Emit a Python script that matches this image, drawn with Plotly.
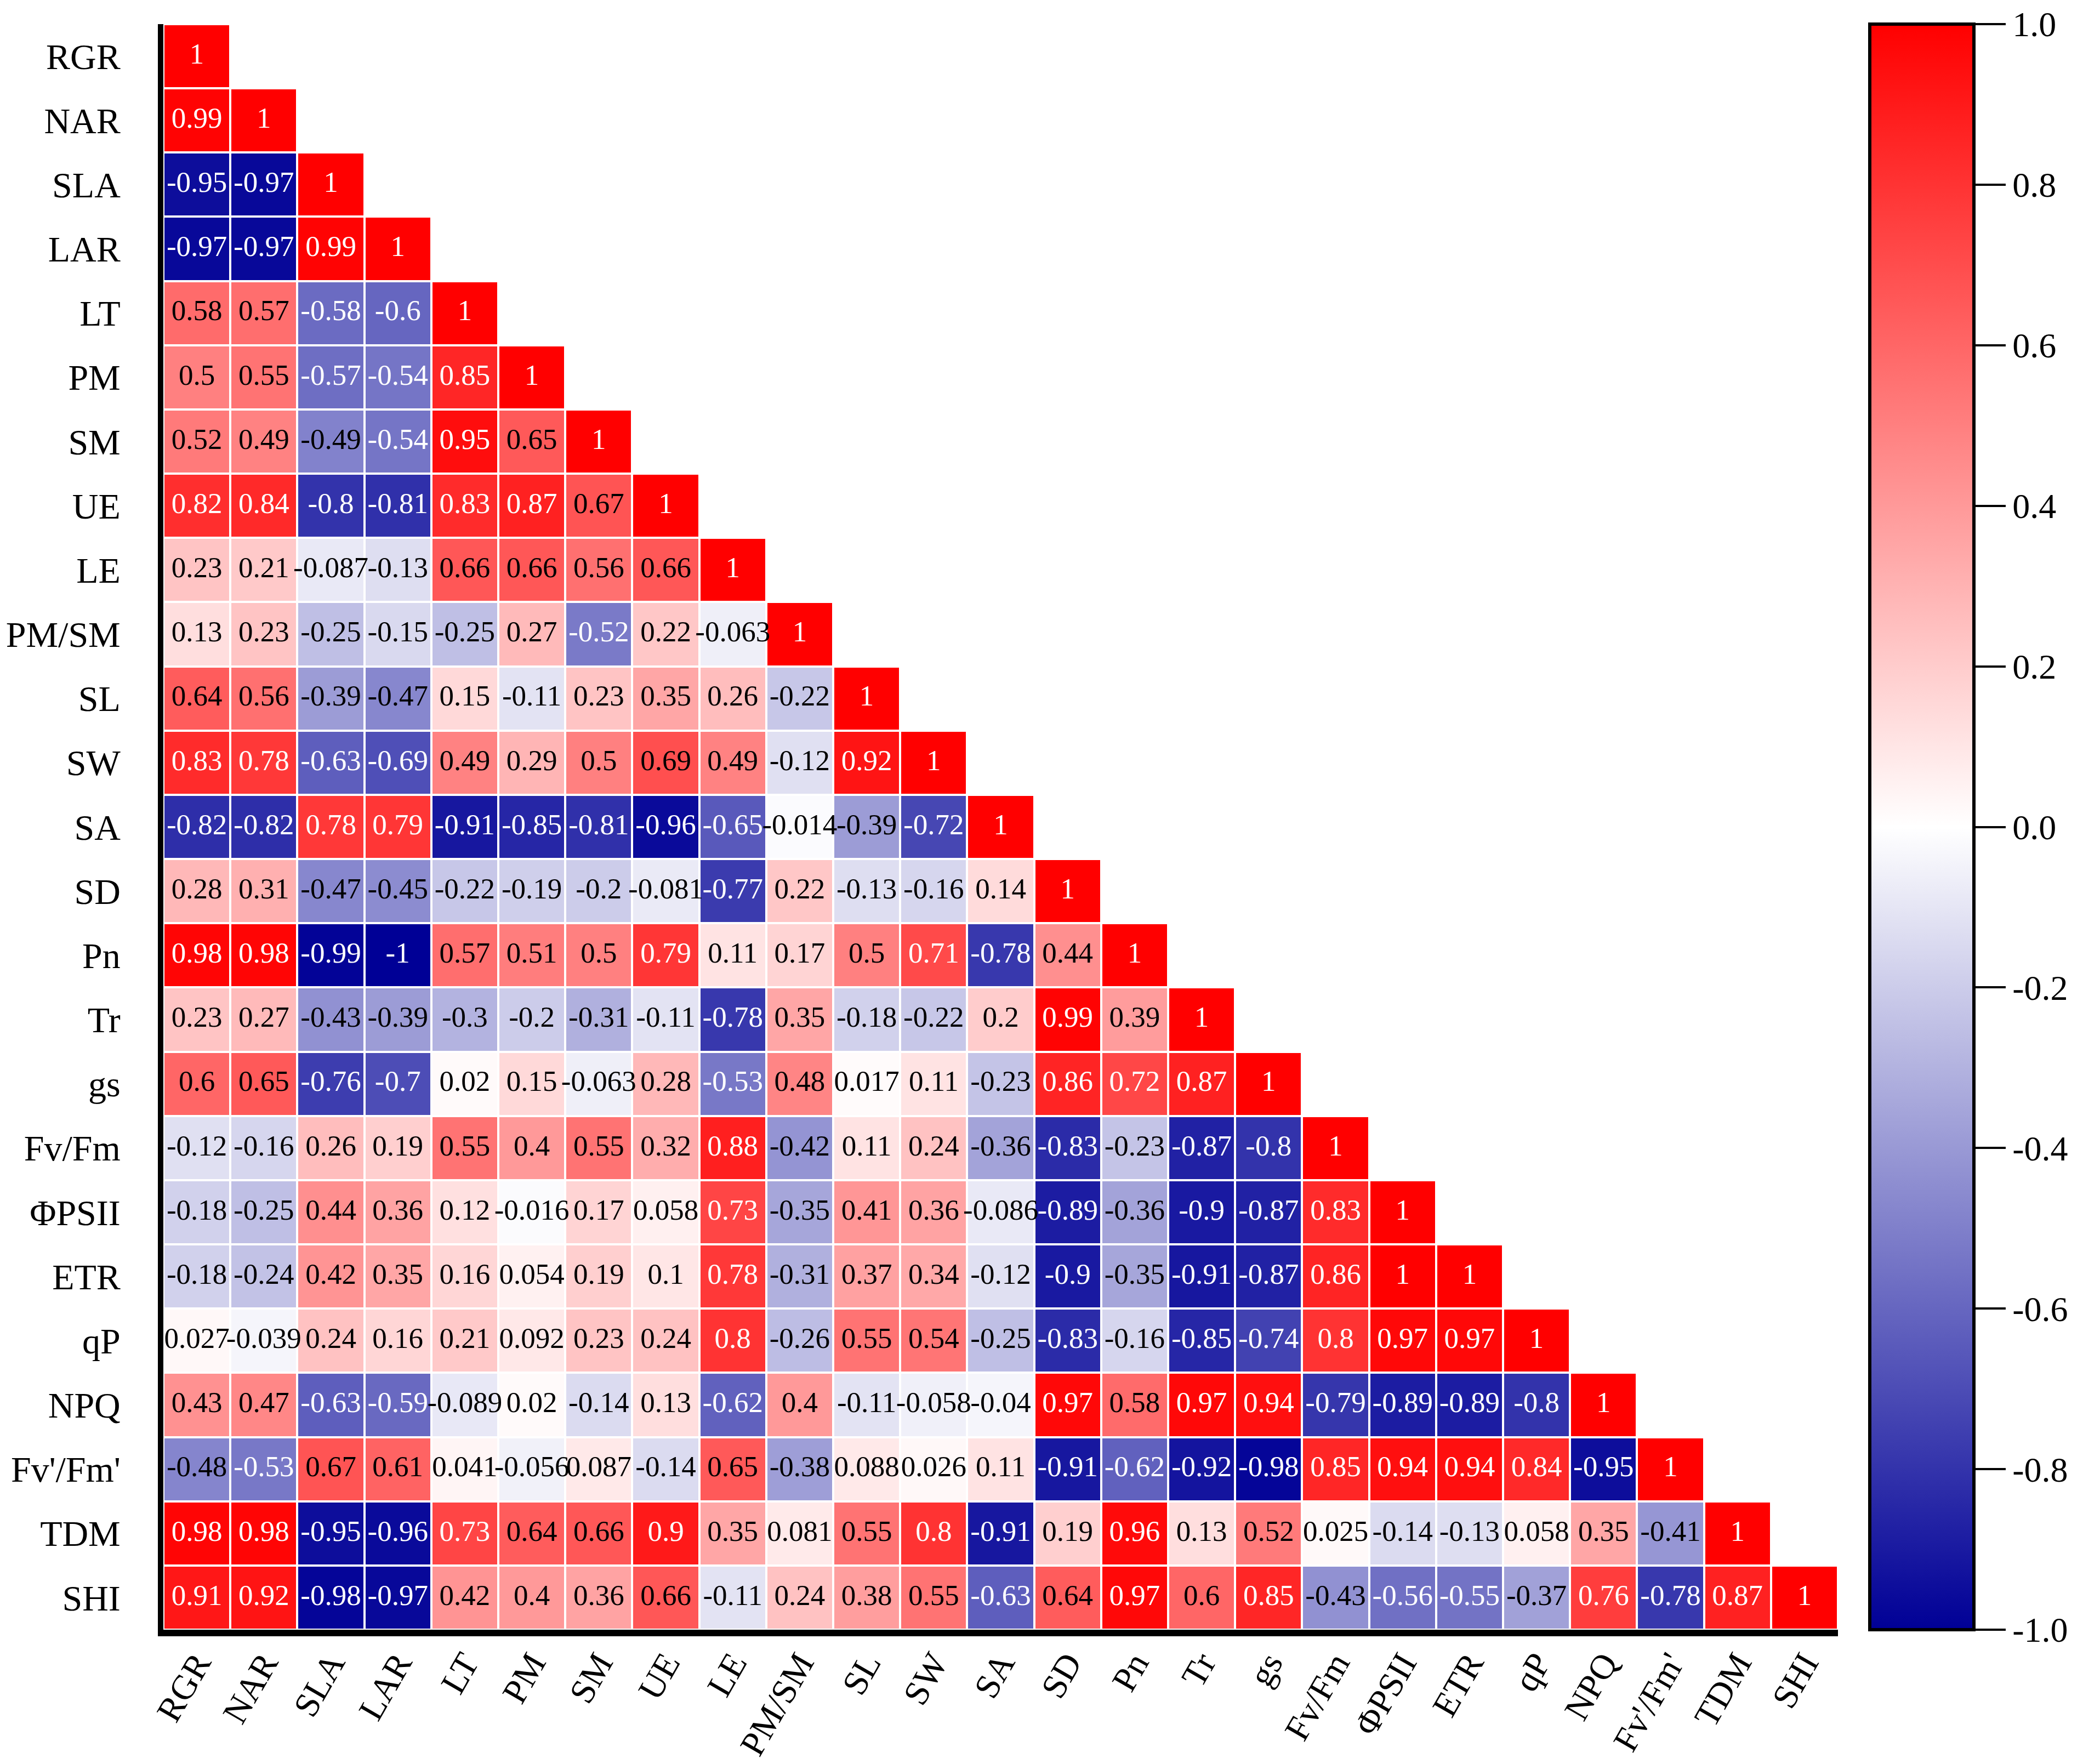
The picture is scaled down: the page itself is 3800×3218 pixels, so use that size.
import plotly.graph_objs as go

labels = ["RGR", "NAR", "SLA", "LAR", "LT", "PM", "SM", "UE", "LE", "PM/SM",
          "SL", "SW", "SA", "SD", "Pn", "Tr", "gs", "Fv/Fm", "ΦPSII", "ETR",
          "qP", "NPQ", "Fv'/Fm'", "TDM", "SHI"]

# lower triangle, row by row (diagonal 1 is added below)
r_RGR = []
r_NAR = [0.99]
r_SLA = [-0.95, -0.97]
r_LAR = [-0.97, -0.97, 0.99]
r_LT = [0.58, 0.57, -0.58, -0.6]
r_PM = [0.5, 0.55, -0.57, -0.54, 0.85]
r_SM = [0.52, 0.49, -0.49, -0.54, 0.95, 0.65]
r_UE = [0.82, 0.84, -0.8, -0.81, 0.83, 0.87, 0.67]
r_LE = [0.23, 0.21, -0.087, -0.13, 0.66, 0.66, 0.56, 0.66]
r_PMSM = [0.13, 0.23, -0.25, -0.15, -0.25, 0.27, -0.52, 0.22, -0.063]
r_SL = [0.64, 0.56, -0.39, -0.47, 0.15, -0.11, 0.23, 0.35, 0.26, -0.22]
r_SW = [0.83, 0.78, -0.63, -0.69, 0.49, 0.29, 0.5, 0.69, 0.49, -0.12, 0.92]
r_SA = [-0.82, -0.82, 0.78, 0.79, -0.91, -0.85, -0.81, -0.96, -0.65, -0.014, -0.39, -0.72]
r_SD = [0.28, 0.31, -0.47, -0.45, -0.22, -0.19, -0.2, -0.081, -0.77, 0.22, -0.13, -0.16, 0.14]
r_Pn = [0.98, 0.98, -0.99, -1, 0.57, 0.51, 0.5, 0.79, 0.11, 0.17, 0.5, 0.71, -0.78, 0.44]
r_Tr = [0.23, 0.27, -0.43, -0.39, -0.3, -0.2, -0.31, -0.11, -0.78, 0.35, -0.18, -0.22, 0.2, 0.99, 0.39]
r_gs = [0.6, 0.65, -0.76, -0.7, 0.02, 0.15, -0.063, 0.28, -0.53, 0.48, 0.017, 0.11, -0.23, 0.86, 0.72, 0.87]
r_FvFm = [-0.12, -0.16, 0.26, 0.19, 0.55, 0.4, 0.55, 0.32, 0.88, -0.42, 0.11, 0.24, -0.36, -0.83, -0.23,
          -0.87, -0.8]
r_PSII = [-0.18, -0.25, 0.44, 0.36, 0.12, -0.016, 0.17, 0.058, 0.73, -0.35, 0.41, 0.36, -0.086, -0.89, -0.36,
          -0.9, -0.87, 0.83]
r_ETR = [-0.18, -0.24, 0.42, 0.35, 0.16, 0.054, 0.19, 0.1, 0.78, -0.31, 0.37, 0.34, -0.12, -0.9, -0.35,
         -0.91, -0.87, 0.86, 1]
r_qP = [0.027, -0.039, 0.24, 0.16, 0.21, 0.092, 0.23, 0.24, 0.8, -0.26, 0.55, 0.54, -0.25, -0.83, -0.16,
        -0.85, -0.74, 0.8, 0.97, 0.97]
r_NPQ = [0.43, 0.47, -0.63, -0.59, -0.089, 0.02, -0.14, 0.13, -0.62, 0.4, -0.11, -0.058, -0.04, 0.97, 0.58,
         0.97, 0.94, -0.79, -0.89, -0.89, -0.8]
r_FvFm2 = [-0.48, -0.53, 0.67, 0.61, 0.041, -0.056, 0.087, -0.14, 0.65, -0.38, 0.088, 0.026, 0.11, -0.91, -0.62,
           -0.92, -0.98, 0.85, 0.94, 0.94, 0.84, -0.95]
r_TDM = [0.98, 0.98, -0.95, -0.96, 0.73, 0.64, 0.66, 0.9, 0.35, 0.081, 0.55, 0.8, -0.91, 0.19, 0.96,
         0.13, 0.52, 0.025, -0.14, -0.13, 0.058, 0.35, -0.41]
r_SHI = [0.91, 0.92, -0.98, -0.97, 0.42, 0.4, 0.36, 0.66, -0.11, 0.24, 0.38, 0.55, -0.63, 0.64, 0.97,
         0.6, 0.85, -0.43, -0.56, -0.55, -0.37, 0.76, -0.78, 0.87]

rows = [r_RGR, r_NAR, r_SLA, r_LAR, r_LT, r_PM, r_SM, r_UE, r_LE, r_PMSM, r_SL, r_SW, r_SA, r_SD,
        r_Pn, r_Tr, r_gs, r_FvFm, r_PSII, r_ETR, r_qP, r_NPQ, r_FvFm2, r_TDM, r_SHI]

cbar_vals = [-1.0, -0.8, -0.6, -0.4, -0.2, 0.0, 0.2, 0.4, 0.6, 0.8, 1.0]
cbar_text = ["-1.0", "-0.8", "-0.6", "-0.4", "-0.2", "0.0", "0.2", "0.4", "0.6", "0.8", "1.0"]

n = len(labels)
z = []
tx, ty, tt, tc = [], [], [], []
for i, row in enumerate(rows):
    full = row + [1]
    z.append(full + [None] * (n - len(full)))
    for j, v in enumerate(full):
        tx.append(labels[j])
        ty.append(labels[i])
        tt.append("{:g}".format(v))
        tc.append("white" if (v > 0.695 or v < -0.495) else "black")

font_name = "Liberation Serif"

heat = go.Heatmap(
    z=z, x=labels, y=labels,
    zmin=-1, zmax=1,
    colorscale=[[0, "#000096"], [0.5, "#ffffff"], [1, "#ff0000"]],
    xgap=4, ygap=4,
    hoverongaps=False,
    colorbar=dict(
        x=1.019, xanchor="left", xpad=0,
        y=0.5, yanchor="middle", len=1.0, ypad=0,
        thickness=190,
        outlinewidth=6, outlinecolor="black",
        tickmode="array", tickvals=cbar_vals, ticktext=cbar_text,
        ticks="outside", ticklen=55, tickwidth=4, tickcolor="black",
        tickfont=dict(family=font_name, size=64, color="black"),
    ),
)

txt = go.Scatter(
    x=tx, y=ty, text=tt, mode="text",
    textfont=dict(family=font_name, size=53, color=tc),
    hoverinfo="skip", showlegend=False,
)

layout = go.Layout(
    width=3800, height=3218,
    margin=dict(l=290, r=455, t=36, b=253),
    paper_bgcolor="white", plot_bgcolor="white",
    font=dict(family=font_name, color="black"),
    xaxis=dict(
        tickangle=-60, showgrid=False, zeroline=False, automargin=False,
        showline=True, linewidth=12, linecolor="black",
        ticks="", ticklabelstandoff=-14,
        tickfont=dict(family=font_name, size=64, color="black"),
        range=[-0.5, n - 0.5],
    ),
    yaxis=dict(
        showgrid=False, zeroline=False, automargin=False,
        showline=True, linewidth=10, linecolor="black",
        ticks="", ticklabelstandoff=55,
        tickfont=dict(family=font_name, size=66, color="black"),
        range=[n - 0.5, -0.5],
    ),
)

fig = go.Figure(data=[heat, txt], layout=layout)
fig.write_html("out.html")
